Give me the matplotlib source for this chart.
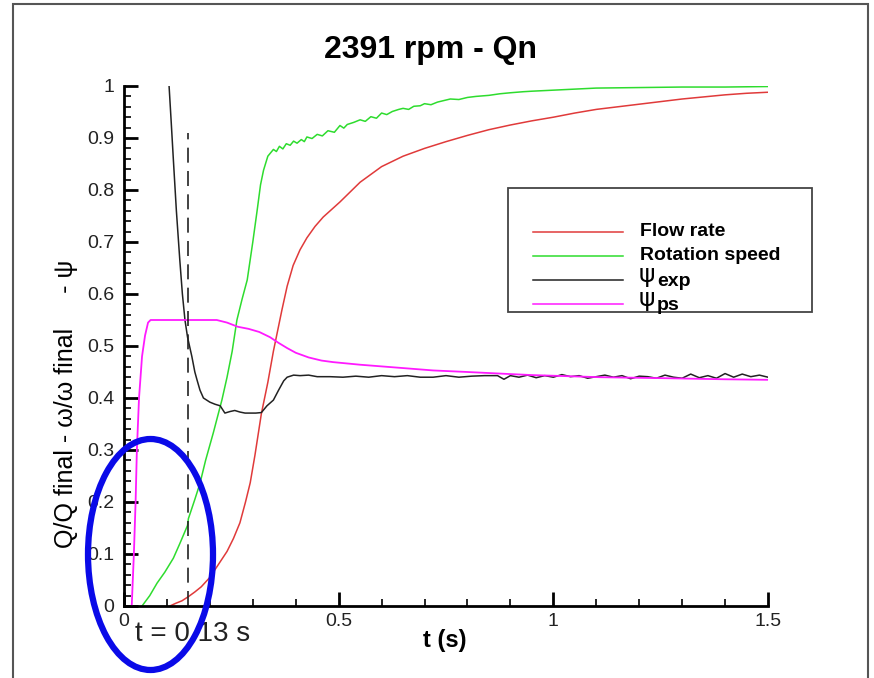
import matplotlib.pyplot as plt
import matplotlib.patches as mpatches
from matplotlib.lines import Line2D
from matplotlib.ticker import MultipleLocator, FuncFormatter
import numpy as np

plt.rcParams['font.family'] = ['Liberation Sans', 'DejaVu Sans']

W, H = 874, 678

# data
t_flow = [0.107, 0.12, 0.135, 0.15, 0.165, 0.18, 0.2, 0.22, 0.24, 0.255, 0.27, 0.283,
          0.294, 0.305, 0.32, 0.335, 0.348, 0.358, 0.368, 0.38, 0.394, 0.41, 0.426,
          0.445, 0.464, 0.503, 0.55, 0.6, 0.65, 0.7, 0.75, 0.8, 0.85, 0.9, 0.95, 1.0,
          1.05, 1.1, 1.15, 1.2, 1.25, 1.3, 1.35, 1.4, 1.45, 1.5]
q_flow = [0.0, 0.005, 0.01, 0.018, 0.027, 0.037, 0.055, 0.08, 0.105, 0.13, 0.16, 0.2,
          0.237, 0.29, 0.37, 0.43, 0.49, 0.53, 0.57, 0.615, 0.655, 0.685, 0.708,
          0.73, 0.748, 0.777, 0.815, 0.845, 0.865, 0.88, 0.893, 0.905, 0.916, 0.925,
          0.933, 0.94, 0.948, 0.955, 0.96, 0.965, 0.97, 0.975, 0.979, 0.983, 0.986, 0.988]

t_rot = [0.042, 0.06, 0.077, 0.095, 0.115, 0.13, 0.148, 0.15, 0.165, 0.177, 0.19, 0.208,
         0.228, 0.24, 0.252, 0.263, 0.275, 0.287, 0.3, 0.31, 0.318, 0.325, 0.335, 0.348,
         0.355, 0.362, 0.37, 0.378, 0.387, 0.395, 0.403, 0.413, 0.42, 0.426, 0.438, 0.45,
         0.462, 0.475, 0.49, 0.503, 0.512, 0.52, 0.535, 0.55, 0.562, 0.575, 0.588, 0.6,
         0.612, 0.625, 0.64, 0.65, 0.663, 0.675, 0.69, 0.7, 0.715, 0.73, 0.745, 0.76,
         0.78, 0.8, 0.82, 0.85, 0.875, 0.9, 0.93, 0.95, 1.0, 1.05, 1.1, 1.2, 1.3, 1.4, 1.5]
w_rot = [0.0, 0.02, 0.044, 0.065, 0.092, 0.12, 0.155, 0.168, 0.205, 0.236, 0.28, 0.333,
         0.396, 0.44, 0.49, 0.55, 0.59, 0.627, 0.7, 0.76, 0.81, 0.838, 0.865, 0.878,
         0.874, 0.884, 0.879, 0.889, 0.886, 0.894, 0.89, 0.897, 0.893, 0.902, 0.899, 0.907,
         0.904, 0.914, 0.911, 0.924, 0.919, 0.926, 0.93, 0.935, 0.932, 0.941, 0.938, 0.948,
         0.945, 0.951, 0.955, 0.957, 0.955, 0.961, 0.962, 0.966, 0.964, 0.969, 0.972, 0.975,
         0.974, 0.978, 0.98, 0.982, 0.985, 0.987, 0.989, 0.99, 0.992, 0.994, 0.996, 0.997,
         0.998, 0.998, 0.999]

t_psi_exp = [0.105, 0.11, 0.115, 0.122, 0.13, 0.136, 0.142, 0.148, 0.158, 0.165, 0.17,
             0.177, 0.185, 0.2, 0.212, 0.224, 0.235, 0.247, 0.258, 0.27, 0.282, 0.294,
             0.307, 0.32, 0.333, 0.348, 0.36, 0.372, 0.38, 0.395, 0.41, 0.43, 0.45, 0.48,
             0.51, 0.54, 0.57, 0.6, 0.63, 0.66, 0.69, 0.72, 0.75, 0.78, 0.81, 0.84, 0.87,
             0.885, 0.9, 0.92, 0.94, 0.96, 0.98, 1.0, 1.02, 1.04, 1.06, 1.08, 1.1, 1.12,
             1.14, 1.16, 1.18, 1.2, 1.22, 1.24, 1.26, 1.28, 1.3, 1.32, 1.34, 1.36, 1.38,
             1.4, 1.42, 1.44, 1.46, 1.48, 1.5]
psi_exp = [1.0, 0.93, 0.858, 0.76, 0.665, 0.6, 0.55, 0.517, 0.48, 0.45, 0.435,
           0.415, 0.4, 0.392, 0.388, 0.385, 0.371, 0.374, 0.376, 0.373, 0.371, 0.371,
           0.371, 0.372, 0.385, 0.396, 0.415, 0.433, 0.44, 0.444, 0.443, 0.444, 0.441,
           0.441, 0.44, 0.442, 0.44, 0.443, 0.441, 0.443, 0.44, 0.44, 0.443, 0.44, 0.442,
           0.443, 0.443, 0.436, 0.443, 0.44, 0.444, 0.439, 0.443, 0.44, 0.445, 0.441,
           0.443, 0.438, 0.441, 0.444, 0.44, 0.443, 0.437, 0.442, 0.441, 0.438, 0.444,
           0.44, 0.438, 0.446, 0.439, 0.443, 0.438, 0.447, 0.44, 0.446, 0.441, 0.444, 0.44]

t_psi_ps = [0.018, 0.023, 0.027, 0.03, 0.035, 0.042, 0.049, 0.056, 0.062, 0.216, 0.24,
            0.265, 0.29, 0.315, 0.34, 0.36, 0.38, 0.4, 0.43, 0.46, 0.487, 0.55, 0.643,
            0.72, 0.8, 0.9, 0.953, 1.11, 1.265, 1.4, 1.5]
psi_ps = [0.0, 0.1, 0.2, 0.3, 0.4, 0.48, 0.52, 0.545, 0.55, 0.55, 0.545,
          0.537, 0.533, 0.527, 0.517, 0.506, 0.496, 0.487, 0.478, 0.472, 0.469, 0.464,
          0.458, 0.453, 0.45, 0.446, 0.444, 0.44, 0.438, 0.436, 0.435]

t_mark = 0.148
mark_top = 0.91

labels = ['Flow rate', 'Rotation speed', 'exp', 'ps']
colors = ['#e03a3a', '#2edc2e', '#222222', '#ff1aff']


def fx(px):
    return px / W


def fy(py):
    return 1 - py / H


fig = plt.figure(figsize=(W / 100, H / 100), dpi=100)
ax = fig.add_axes([fx(124), fy(606), 644 / W, 520 / H])

ax.plot(t_flow, q_flow, color=colors[0], lw=1.1)
ax.plot(t_rot, w_rot, color=colors[1], lw=1.1)
ax.plot(t_psi_exp, psi_exp, color=colors[2], lw=1.1)
ax.plot(t_psi_ps, psi_ps, color=colors[3], lw=1.3)
ax.plot([t_mark, t_mark], [0, mark_top], color='#222222', lw=1.2, dashes=(9, 5))

ax.set_xlim(0, 1.5)
ax.set_ylim(0, 1)
for s in ['top', 'right']:
    ax.spines[s].set_visible(False)
for s in ['left', 'bottom']:
    ax.spines[s].set_linewidth(2)
ax.xaxis.set_major_locator(MultipleLocator(0.5))
ax.xaxis.set_minor_locator(MultipleLocator(0.1))
ax.yaxis.set_major_locator(MultipleLocator(0.1))
ax.yaxis.set_minor_locator(MultipleLocator(0.02))
fmt = FuncFormatter(lambda v, p: '%g' % round(v, 2))
ax.xaxis.set_major_formatter(fmt)
ax.yaxis.set_major_formatter(fmt)
ax.tick_params(which='major', direction='in', length=10, width=2, labelsize=14,
               labelcolor='#222222')
ax.tick_params(which='minor', direction='in', length=5, width=1.2)
ax.tick_params(axis='y', pad=7)
ax.tick_params(axis='x', pad=5)

fig.text(fx(430), fy(50), '2391 rpm - Qn', fontsize=23, fontweight='bold',
         ha='center', va='center')
fig.text(fx(445), fy(641), 't (s)', fontsize=17, fontweight='bold',
         ha='center', va='center')
fig.text(fx(66), fy(404), 'Q/Q final - \u03c9/\u03c9 final     - \u03c8', fontsize=18,
         rotation=90, ha='center', va='center')

# legend box
fig.patches.append(mpatches.Rectangle((fx(508), fy(312)), 304 / W, 124 / H,
                                      transform=fig.transFigure, fill=False,
                                      edgecolor='#444444', lw=1.3))
rows = [232, 256, 280, 304]
for i, r in enumerate(rows):
    fig.add_artist(Line2D([fx(533), fx(623)], [fy(r), fy(r)], color=colors[i], lw=1.1,
                          transform=fig.transFigure))
for i in range(2):
    fig.text(fx(640), fy(rows[i]), labels[i], fontsize=14, fontweight='bold',
             va='center', ha='left')
for i in range(2, 4):
    fig.text(fx(639), fy(rows[i] - 5), '\u03c8', fontsize=18, va='center', ha='left',
             family='DejaVu Sans')
    fig.text(fx(657), fy(rows[i] + 2), labels[i], fontsize=14, fontweight='bold',
             va='center', ha='left')

fig.text(fx(135), fy(634), 't = 0.13 s', fontsize=20, color='#222222',
         ha='left', va='center')

# highlight ellipse
fig.patches.append(mpatches.Ellipse((fx(150.5), fy(554.5)), 125 / W, 231 / H,
                                    transform=fig.transFigure, fill=False,
                                    edgecolor='#0a0ae8', lw=4.5, zorder=10))

# outer frame
fig.patches.append(mpatches.Rectangle((fx(13), fy(700)), 855 / W, 696 / H,
                                      transform=fig.transFigure, fill=False,
                                      edgecolor='#555555', lw=1.5))

fig.savefig('out.png', dpi=100)
